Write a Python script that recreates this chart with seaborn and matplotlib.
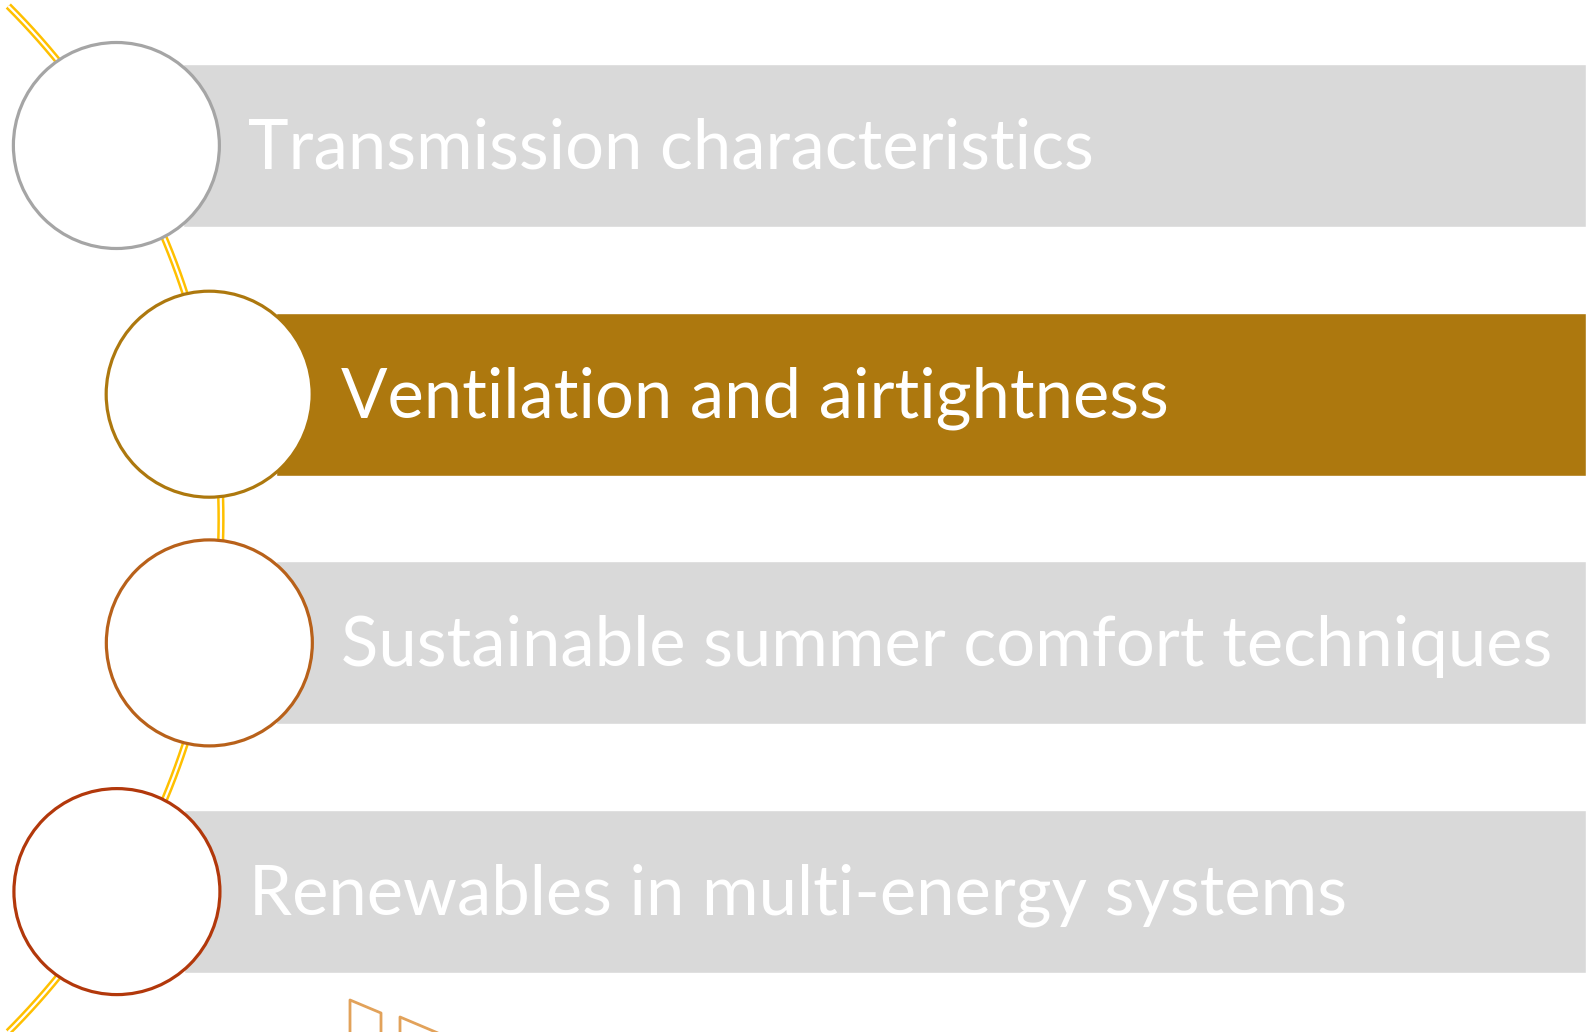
import numpy as np
import seaborn as sns
import matplotlib.pyplot as plt
import pandas as pd

# Itens do diagrama (de cima para baixo)
labels = [
    "Transmission characteristics",
    "Ventilation and airtightness",
    "Sustainable summer comfort techniques",
    "Renewables in multi-energy systems",
]
bar_colors = ["#D9D9D9", "#AD780E", "#D9D9D9", "#D9D9D9"]
ring_colors = ["#A5A5A5", "#AD780E", "#B8611A", "#B2380B"]

sns.set_theme(style="white")
plt.rcParams["font.family"] = ["Lato", "DejaVu Sans"]

W, H = 1586, 1032
fig = plt.figure(figsize=(W / 100, H / 100), dpi=100)
ax = fig.add_axes([0, 0, 1, 1])

# arco de fundo (linha dupla amarela)
cx, cy, R = -504, 519, 725
t = np.linspace(np.arcsin(-513 / R), np.arcsin(513 / R), 400)
arc = pd.DataFrame({"x": cx + R * np.cos(t), "y": cy + R * np.sin(t)})
ax.plot(arc["x"], arc["y"], color="#FFC000", lw=5.2, zorder=2, solid_capstyle="butt")
ax.plot(arc["x"], arc["y"], color="white", lw=1.6, zorder=2.1, solid_capstyle="butt")

# posições
y0, step, bar_h = 145.5, 248.7, 163
ys = [y0 + i * step for i in range(len(labels))]
xs = [cx + np.sqrt(R ** 2 - (y - cy) ** 2) - 1 for y in ys]

# barras
ax.barh(ys, [W - (x + 67) for x in xs], left=[x + 67 for x in xs],
        height=bar_h, color=bar_colors, zorder=1)

# círculos
df = pd.DataFrame({"x": xs, "y": ys, "lab": labels})
diam_pt = 2 * 103 * 0.72
sns.scatterplot(data=df, x="x", y="y", hue="lab", palette=["white"] * 4,
                s=diam_pt ** 2, edgecolor=ring_colors, linewidth=2.3,
                legend=False, zorder=3, ax=ax)
ax.set_xlim(0, W)
ax.set_ylim(H, 0)
ax.axis("off")

# textos
txts = []
for x, y, lab in zip(xs, ys, labels):
    txts.append(ax.text(x + 132, y + 23, lab, color="white", fontsize=50,
                        va="baseline", ha="left", zorder=4))
fig.canvas.draw()
r = fig.canvas.get_renderer()
w0 = txts[0].get_window_extent(r).width
for tx in txts:
    tx.set_fontsize(50 * 845 / w0)

# fragmento de imagem no rodapé
dec = "#E2A25A"
ax.plot([350, 350, 381, 381], [1040, 1000, 1013, 1040], color=dec, lw=2, zorder=2)
ax.plot([400, 400, 445], [1040, 1017, 1036], color=dec, lw=2, zorder=2)

fig.savefig("out.png", dpi=100)
